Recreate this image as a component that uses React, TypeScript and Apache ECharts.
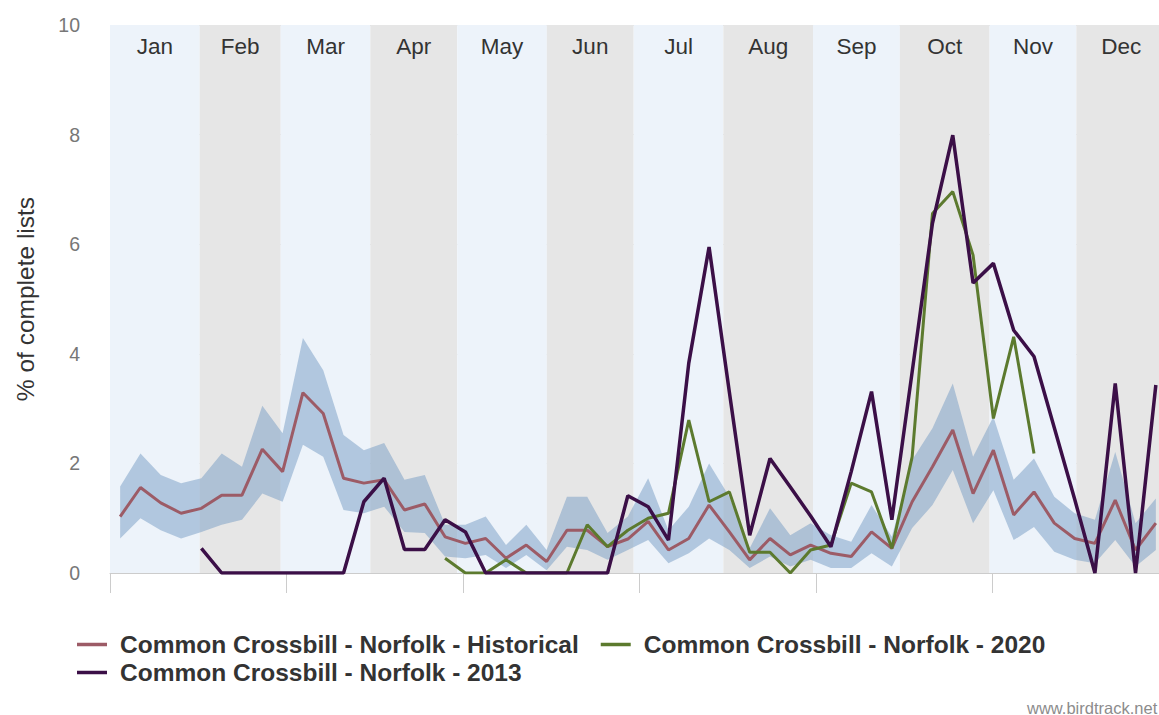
import React, { useEffect, useRef } from "react";
import * as echarts from "echarts";

// Weekly reporting rate (% of complete lists), 52 weeks of the year
const weeks = Array.from({ length: 52 }, (_, i) => `W${i + 1}`);
const monthNames = ["Jan", "Feb", "Mar", "Apr", "May", "Jun", "Jul", "Aug", "Sep", "Oct", "Nov", "Dec"];
const monthStartDays = [0, 31, 59, 90, 120, 151, 181, 212, 243, 273, 304, 334, 365];

const historical = [
  1.03, 1.56, 1.28, 1.09, 1.18, 1.42, 1.42, 2.26, 1.85, 3.29, 2.91, 1.73, 1.64,
  1.7, 1.15, 1.26, 0.66, 0.54, 0.63, 0.27, 0.51, 0.21, 0.78, 0.78, 0.48, 0.62,
  0.94, 0.42, 0.63, 1.24, 0.75, 0.24, 0.63, 0.33, 0.51, 0.36, 0.3, 0.75, 0.45,
  1.3, 1.94, 2.61, 1.45, 2.24, 1.06, 1.48, 0.91, 0.63, 0.54, 1.33, 0.42, 0.91,
];
const historicalLow = [
  0.63, 1.0, 0.78, 0.63, 0.75, 0.88, 0.97, 1.45, 1.3, 2.34, 2.12, 1.15, 1.09,
  1.21, 0.75, 0.73, 0.3, 0.27, 0.33, 0.09, 0.33, 0.05, 0.48, 0.42, 0.24, 0.42,
  0.6, 0.18, 0.36, 0.63, 0.42, 0.09, 0.3, 0.12, 0.24, 0.09, 0.09, 0.36, 0.12,
  0.82, 1.24, 1.88, 0.91, 1.51, 0.6, 0.84, 0.39, 0.24, 0.18, 0.6, 0.12, 0.42,
];
const historicalHigh = [
  1.58, 2.18, 1.79, 1.64, 1.73, 2.18, 1.94, 3.05, 2.55, 4.29, 3.7, 2.52, 2.24,
  2.37, 1.7, 1.79, 0.88, 0.88, 1.03, 0.51, 0.88, 0.42, 1.39, 1.39, 0.73, 1.03,
  1.73, 0.78, 1.21, 2.0, 1.39, 0.45, 1.18, 0.69, 0.91, 0.69, 0.57, 1.24, 0.66,
  2.06, 2.64, 3.46, 2.12, 2.85, 1.7, 2.09, 1.39, 1.09, 0.97, 2.21, 0.91, 1.36,
];
const year2020 = [
  null, null, null, null, null, null, null, null, null, null, null, null, null,
  null, null, null, 0.27, 0, 0, 0.24, 0, 0, 0, 0.88, 0.48, 0.78,
  1.0, 1.09, 2.79, 1.3, 1.48, 0.38, 0.38, 0, 0.42, 0.51, 1.64, 1.48, 0.45,
  2.12, 6.56, 6.96, 5.8, 2.82, 4.31, 2.18, null, null, null, null, null, null,
];
const year2013 = [
  null, null, null, null, 0.45, 0, 0, 0, 0, 0, 0, 0, 1.3,
  1.73, 0.43, 0.43, 0.97, 0.75, 0, 0, 0, 0, 0, 0, 0, 1.41,
  1.21, 0.6, 3.83, 5.95, 3.3, 0.69, 2.09, 1.57, 1.04, 0.48, 1.85, 3.31, 0.97,
  3.67, 6.38, 7.99, 5.29, 5.65, 4.43, 3.95, 2.65, 1.35, 0, 3.46, 0, 3.43,
];

const NAME_HIST = "Common Crossbill - Norfolk - Historical";
const NAME_2020 = "Common Crossbill - Norfolk - 2020";
const NAME_2013 = "Common Crossbill - Norfolk - 2013";

const FONT = "'Liberation Sans', Arial, sans-serif";

const legendText = {
  fontSize: 24.5,
  fontWeight: "bold" as const,
  color: "#333333",
  fontFamily: FONT,
  padding: [0, 0, 0, 8],
};

export default function App() {
  const ref = useRef<HTMLDivElement>(null);

  useEffect(() => {
    if (!ref.current) return;
    const chart = echarts.init(ref.current, undefined, { renderer: "svg" });

    // alternating month shading on the day-of-year axis
    const monthBands = monthNames.map((m, k) => [
      {
        name: m,
        xAxis: monthStartDays[k],
        itemStyle: { color: k % 2 === 0 ? "#EDF3FA" : "#E6E6E6" },
      },
      { xAxis: monthStartDays[k + 1] },
    ]);

    const lineCommon = {
      type: "line" as const,
      xAxisIndex: 0,
      showSymbol: false,
      symbol: "none",
      smooth: false,
      connectNulls: false,
    };

    chart.setOption({
      animation: false,
      backgroundColor: "#ffffff",
      textStyle: { fontFamily: FONT },
      grid: { left: 110, top: 25, right: 9, bottom: 142, containLabel: false },
      xAxis: [
        {
          type: "category",
          data: weeks,
          boundaryGap: true,
          show: false,
        },
        {
          type: "value",
          position: "bottom",
          min: 0,
          max: 365,
          interval: 61,
          axisLabel: { show: false },
          axisLine: { show: true, lineStyle: { color: "#CCCCCC", width: 1 } },
          axisTick: { show: true, length: 20, lineStyle: { color: "#CCCCCC", width: 1 } },
          splitLine: { show: false },
        },
      ],
      yAxis: {
        type: "value",
        min: 0,
        max: 10,
        interval: 2,
        name: "% of complete lists",
        nameLocation: "middle",
        nameGap: 72,
        nameRotate: 90,
        nameTextStyle: { fontSize: 24.5, color: "#333333", fontFamily: FONT },
        axisLabel: { color: "#777777", fontSize: 19.5, margin: 30, fontFamily: FONT },
        axisLine: { show: false },
        axisTick: { show: false },
        splitLine: { show: true, lineStyle: { color: "#D9D9D9", width: 1 } },
      },
      legend: [
        {
          left: 72,
          top: 627,
          data: [NAME_HIST, NAME_2020],
          icon: "rect",
          itemWidth: 30,
          itemHeight: 3.5,
          itemGap: 22,
          selectedMode: false,
          textStyle: legendText,
        },
        {
          left: 72,
          top: 655,
          data: [NAME_2013],
          icon: "rect",
          itemWidth: 30,
          itemHeight: 3.5,
          selectedMode: false,
          textStyle: legendText,
        },
      ],
      graphic: [
        {
          type: "text",
          left: 1027,
          top: 699,
          silent: true,
          style: { text: "www.birdtrack.net", fontSize: 16.5, fill: "#8C8C8C", fontFamily: FONT },
        },
      ],
      series: [
        {
          name: "months",
          type: "line",
          xAxisIndex: 1,
          data: [],
          z: -1,
          silent: true,
          markArea: {
            silent: true,
            label: {
              show: true,
              position: "insideTop",
              distance: 10,
              color: "#333333",
              fontSize: 22.5,
              fontFamily: FONT,
            },
            data: monthBands,
          },
        },
        {
          ...lineCommon,
          name: "rangeBase",
          data: historicalLow,
          stack: "range",
          lineStyle: { opacity: 0 },
          silent: true,
          z: 1,
        },
        {
          ...lineCommon,
          name: "rangeSpan",
          data: historicalHigh.map((h, i) => +(h - historicalLow[i]).toFixed(2)),
          stack: "range",
          lineStyle: { opacity: 0 },
          areaStyle: { color: "rgba(118,155,195,0.5)", opacity: 1 },
          silent: true,
          z: 1,
        },
        {
          ...lineCommon,
          name: NAME_HIST,
          data: historical,
          itemStyle: { color: "#9C5B66" },
          lineStyle: { color: "#9C5B66", width: 3 },
          z: 3,
        },
        {
          ...lineCommon,
          name: NAME_2020,
          data: year2020,
          itemStyle: { color: "#5C7A2E" },
          lineStyle: { color: "#5C7A2E", width: 3 },
          z: 4,
        },
        {
          ...lineCommon,
          name: NAME_2013,
          data: year2013,
          itemStyle: { color: "#3B0F47" },
          lineStyle: { color: "#3B0F47", width: 3.5 },
          z: 5,
        },
      ],
    });

    return () => chart.dispose();
  }, []);

  return (
    <div
      ref={ref}
      style={{ position: "fixed", left: 0, top: 0, width: 1175, height: 715, background: "#ffffff" }}
    />
  );
}
